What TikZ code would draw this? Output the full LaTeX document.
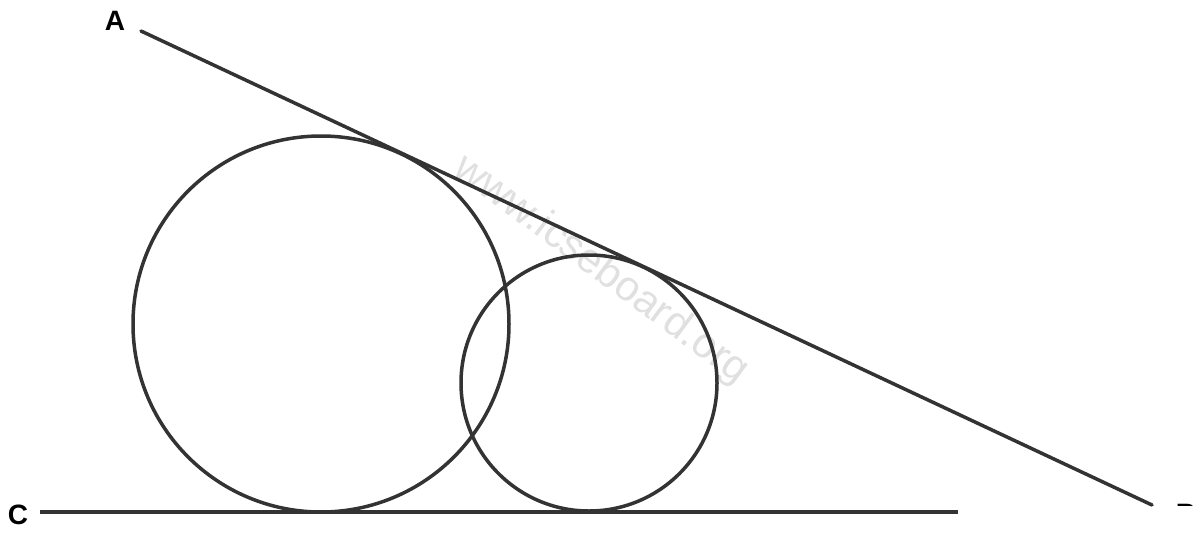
\documentclass[tikz,border=0pt]{standalone}
\usepackage{fontspec}
\setmainfont{Liberation Sans}
\begin{document}
\begin{tikzpicture}[x=0.5pt,y=-0.5pt,
  geo/.style={line width=1.75pt,draw=black!80,line cap=round},
  lbl/.style={font=\bfseries\fontsize{14}{16}\selectfont,text=black,inner sep=0pt},
  wm/.style={font=\fontsize{21}{24}\selectfont,text=black!12,rotate=-36.5,inner sep=0pt}]
\useasboundingbox[fill=white] (0,0) rectangle (1200,542);
\node[wm] (wmk) at (601,270) {www.icseboard.org};
\coordinate (A) at (141,31);
\coordinate (Bend) at (1152,505);
\coordinate (C) at (40,512);
\coordinate (D) at (958,512);
\draw[geo] (A) -- (Bend);
\draw[geo,line cap=butt] (C) -- (D);
\node[geo,circle,minimum size=188pt,inner sep=0pt] (O1) at (321,324) {};
\node[geo,circle,minimum size=128pt,inner sep=0pt] (O2) at (589,383) {};
\node[lbl] (la) at (115,21) {A};
\node[lbl] (lc) at (18,515) {C};
\begin{scope}
\clip (1160,495) rectangle (1200,505);
\node[lbl] (lb) at (1186,514) {B};
\end{scope}
\end{tikzpicture}
\end{document}
